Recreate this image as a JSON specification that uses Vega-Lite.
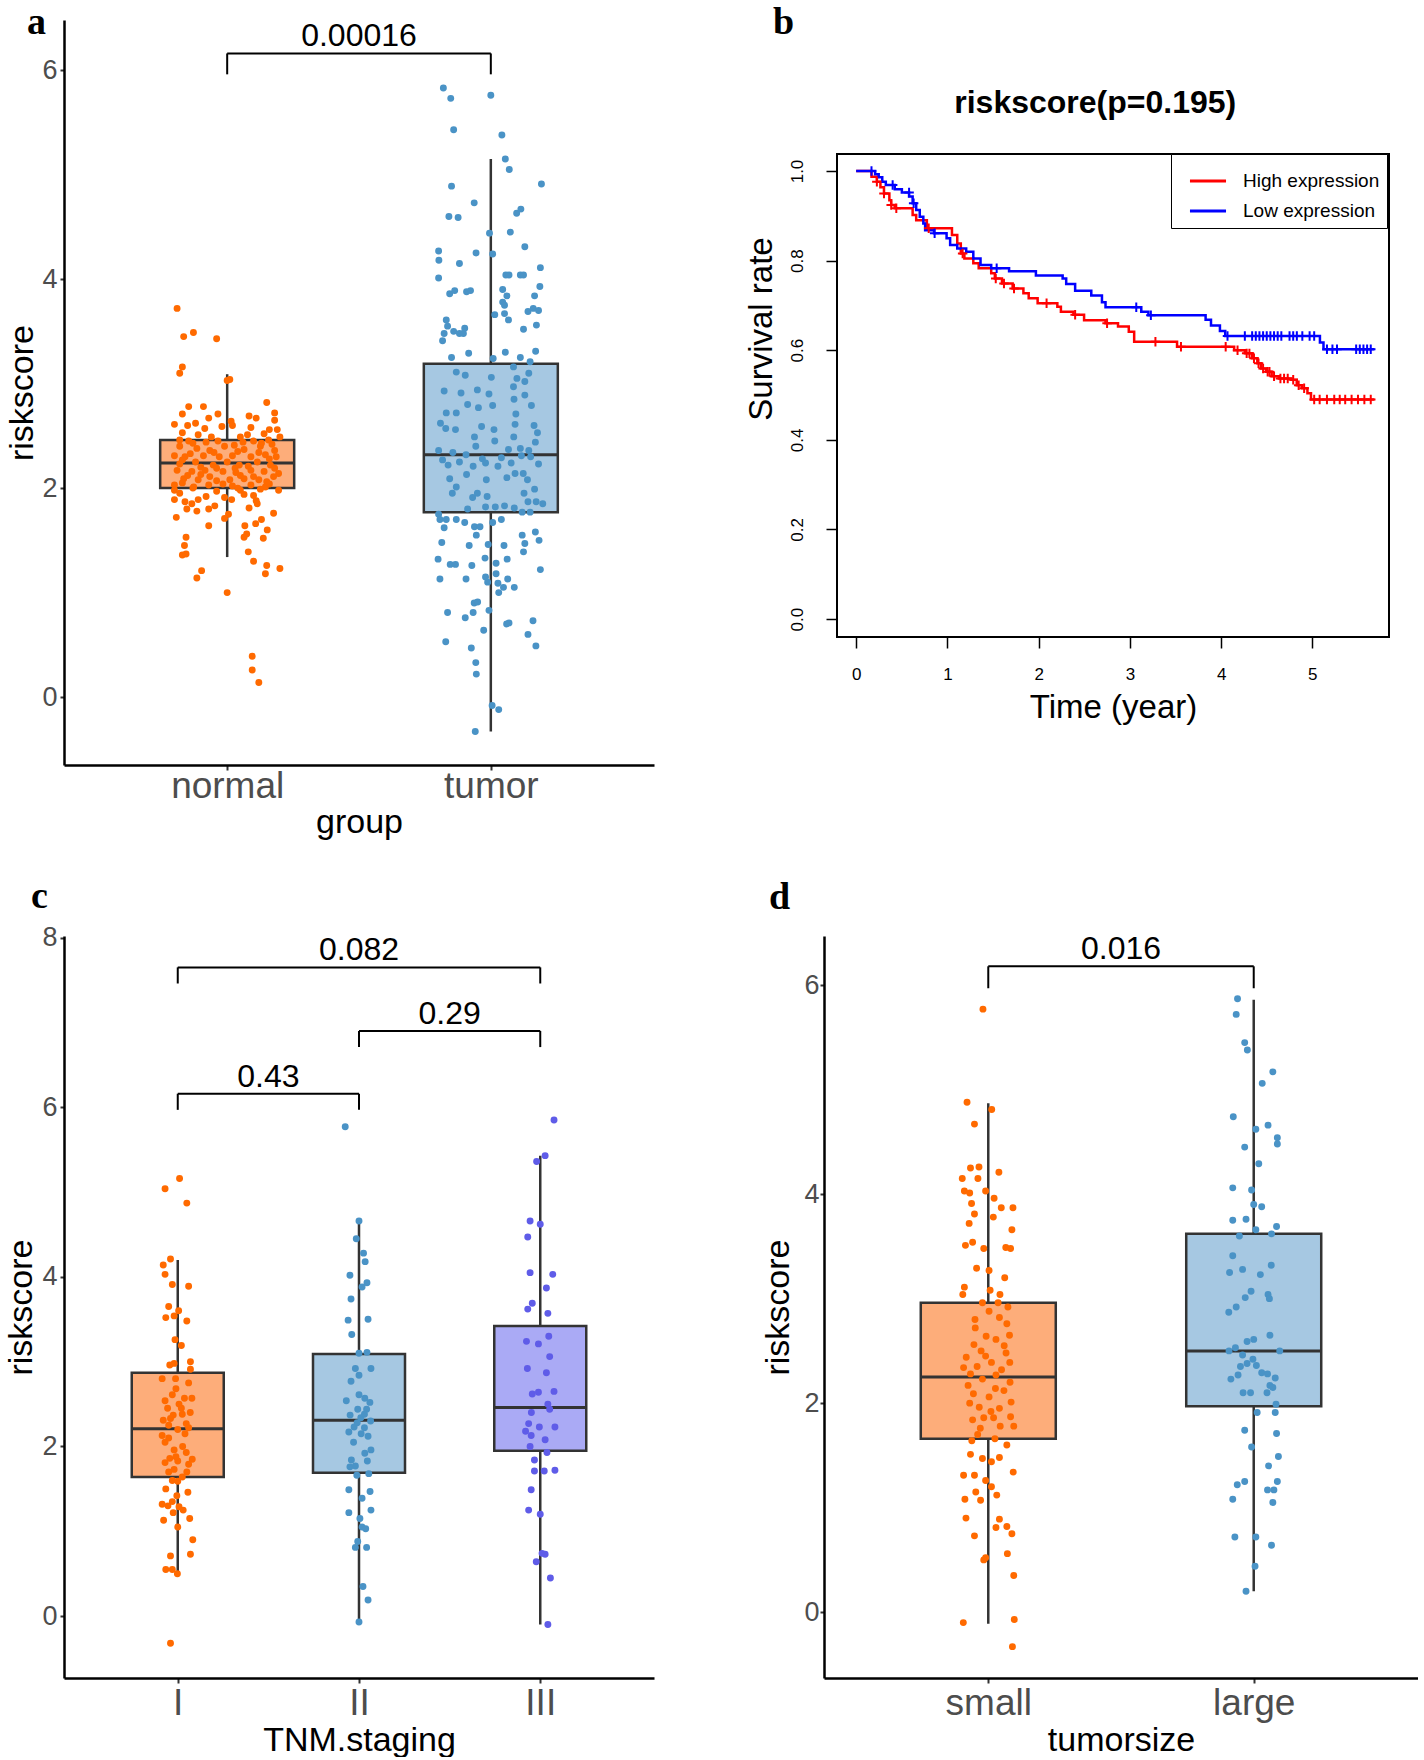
{
"$schema":"https://vega.github.io/schema/vega-lite/v6.json",
"background":"white",
"padding":{"left":4,"top":4,"right":0,"bottom":0},
"config":{
 "view":{"stroke":null},
 "font":"Liberation Sans",
 "axis":{"grid":false,"domainColor":"black","domainWidth":2.5,"tickColor":"#333333","tickWidth":2,"tickSize":5,"labelColor":"#4D4D4D","labelFont":"Liberation Sans","titleFont":"Liberation Sans","titleFontWeight":"normal","titleColor":"black","labelFlush":false,"labelOverlap":false},
 "title":{"font":"Liberation Serif","fontWeight":"bold","fontSize":38,"anchor":"start","frame":"bounds","color":"black","baseline":"alphabetic"}
},
"datasets":{
 "boxA":[{"g":"normal","pos":1,"lo":1.34,"q1":2.0,"med":2.24,"q3":2.46,"hi":3.09},{"g":"tumor","pos":2,"lo":-0.33,"q1":1.77,"med":2.32,"q3":3.19,"hi":5.15}],
 "brA":[{"x1":1,"x2":2,"xm":1.5,"y":6.16,"ylo":5.96,"label":"0.00016"}],
 "ptsA":[
{"g":"normal","x":0.81,"v":3.72},{"g":"normal","x":0.835,"v":3.45},{"g":"normal","x":0.872,"v":3.49},{"g":"normal","x":0.96,"v":3.43},{"g":"normal","x":0.83,"v":3.16},{"g":"normal","x":0.82,"v":3.10},{"g":"normal","x":1.0,"v":3.03},{"g":"normal","x":1.01,"v":3.04},{"g":"normal","x":1.15,"v":2.82},{"g":"normal","x":0.854,"v":2.78},{"g":"normal","x":0.91,"v":2.78},{"g":"normal","x":0.83,"v":2.71},{"g":"normal","x":0.965,"v":2.71},{"g":"normal","x":1.083,"v":2.69},{"g":"normal","x":1.11,"v":2.67},{"g":"normal","x":1.18,"v":2.72},{"g":"normal","x":1.18,"v":2.65},{"g":"normal","x":0.8,"v":2.61},{"g":"normal","x":1.015,"v":2.64},{"g":"normal","x":0.93,"v":2.67},{"g":"normal","x":0.85,"v":2.60},{"g":"normal","x":0.88,"v":2.62},{"g":"normal","x":0.915,"v":2.57},{"g":"normal","x":0.98,"v":2.59},{"g":"normal","x":1.09,"v":2.58},{"g":"normal","x":1.16,"v":2.56},{"g":"normal","x":1.19,"v":2.56},{"g":"normal","x":0.83,"v":2.53},{"g":"normal","x":0.89,"v":2.51},{"g":"normal","x":0.94,"v":2.49},{"g":"normal","x":1.02,"v":2.60},{"g":"normal","x":1.05,"v":2.49},{"g":"normal","x":1.077,"v":2.51},{"g":"normal","x":1.14,"v":2.52},{"g":"normal","x":1.2,"v":2.49},{"g":"normal","x":0.854,"v":2.45},{"g":"normal","x":0.965,"v":2.45},{"g":"normal","x":1.027,"v":2.41},{"g":"normal","x":1.1,"v":2.45},{"g":"normal","x":1.157,"v":2.46},{"g":"normal","x":0.82,"v":2.40},{"g":"normal","x":0.885,"v":2.38},{"g":"normal","x":0.934,"v":2.36},{"g":"normal","x":0.99,"v":2.40},{"g":"normal","x":1.064,"v":2.37},{"g":"normal","x":1.126,"v":2.40},{"g":"normal","x":1.18,"v":2.36},{"g":"normal","x":0.8,"v":2.31},{"g":"normal","x":0.84,"v":2.30},{"g":"normal","x":0.91,"v":2.31},{"g":"normal","x":0.97,"v":2.30},{"g":"normal","x":1.02,"v":2.31},{"g":"normal","x":1.09,"v":2.30},{"g":"normal","x":1.145,"v":2.32},{"g":"normal","x":1.186,"v":2.30},{"g":"normal","x":0.82,"v":2.23},{"g":"normal","x":0.88,"v":2.25},{"g":"normal","x":0.947,"v":2.22},{"g":"normal","x":1.0,"v":2.25},{"g":"normal","x":1.046,"v":2.22},{"g":"normal","x":1.114,"v":2.25},{"g":"normal","x":1.164,"v":2.22},{"g":"normal","x":0.81,"v":2.17},{"g":"normal","x":0.866,"v":2.16},{"g":"normal","x":0.916,"v":2.17},{"g":"normal","x":0.984,"v":2.16},{"g":"normal","x":1.033,"v":2.15},{"g":"normal","x":1.09,"v":2.17},{"g":"normal","x":1.14,"v":2.16},{"g":"normal","x":1.195,"v":2.14},{"g":"normal","x":0.835,"v":2.09},{"g":"normal","x":0.89,"v":2.08},{"g":"normal","x":0.934,"v":2.11},{"g":"normal","x":1.01,"v":2.08},{"g":"normal","x":1.064,"v":2.09},{"g":"normal","x":1.12,"v":2.08},{"g":"normal","x":1.176,"v":2.11},{"g":"normal","x":0.8,"v":2.03},{"g":"normal","x":0.873,"v":2.01},{"g":"normal","x":0.93,"v":2.03},{"g":"normal","x":0.984,"v":2.04},{"g":"normal","x":1.04,"v":2.00},{"g":"normal","x":1.09,"v":2.03},{"g":"normal","x":1.145,"v":2.01},{"g":"normal","x":1.195,"v":1.98},{"g":"normal","x":0.8,"v":1.98},{"g":"normal","x":0.82,"v":1.95},{"g":"normal","x":1.05,"v":1.98},{"g":"normal","x":1.126,"v":1.99},{"g":"normal","x":1.064,"v":1.94},{"g":"normal","x":0.8,"v":1.89},{"g":"normal","x":0.84,"v":1.87},{"g":"normal","x":0.89,"v":1.89},{"g":"normal","x":0.866,"v":1.85},{"g":"normal","x":0.99,"v":1.91},{"g":"normal","x":1.017,"v":1.89},{"g":"normal","x":1.11,"v":1.88},{"g":"normal","x":0.847,"v":1.80},{"g":"normal","x":0.885,"v":1.78},{"g":"normal","x":0.93,"v":1.80},{"g":"normal","x":0.953,"v":1.83},{"g":"normal","x":1.083,"v":1.81},{"g":"normal","x":1.114,"v":1.85},{"g":"normal","x":1.176,"v":1.76},{"g":"normal","x":0.807,"v":1.72},{"g":"normal","x":0.99,"v":1.71},{"g":"normal","x":1.005,"v":1.75},{"g":"normal","x":0.93,"v":1.64},{"g":"normal","x":1.067,"v":1.64},{"g":"normal","x":1.108,"v":1.66},{"g":"normal","x":1.13,"v":1.70},{"g":"normal","x":1.074,"v":1.56},{"g":"normal","x":1.064,"v":1.53},{"g":"normal","x":1.152,"v":1.60},{"g":"normal","x":1.137,"v":1.52},{"g":"normal","x":0.844,"v":1.53},{"g":"normal","x":0.838,"v":1.45},{"g":"normal","x":0.83,"v":1.36},{"g":"normal","x":0.844,"v":1.37},{"g":"normal","x":1.08,"v":1.39},{"g":"normal","x":1.1,"v":1.30},{"g":"normal","x":1.15,"v":1.26},{"g":"normal","x":1.145,"v":1.18},{"g":"normal","x":1.2,"v":1.23},{"g":"normal","x":0.903,"v":1.21},{"g":"normal","x":0.885,"v":1.14},{"g":"normal","x":1.0,"v":1.00},{"g":"normal","x":1.095,"v":0.39},{"g":"normal","x":1.095,"v":0.26},{"g":"normal","x":1.12,"v":0.14},
{"g":"normal","x":0.82,"v":2.46},{"g":"normal","x":0.87,"v":2.43},{"g":"normal","x":0.92,"v":2.44},{"g":"normal","x":1.06,"v":2.44},{"g":"normal","x":1.13,"v":2.43},{"g":"normal","x":1.17,"v":2.42},{"g":"normal","x":0.86,"v":2.33},{"g":"normal","x":0.95,"v":2.34},{"g":"normal","x":1.04,"v":2.35},{"g":"normal","x":1.12,"v":2.34},{"g":"normal","x":1.16,"v":2.28},{"g":"normal","x":0.83,"v":2.27},{"g":"normal","x":0.9,"v":2.20},{"g":"normal","x":0.96,"v":2.19},{"g":"normal","x":1.03,"v":2.19},{"g":"normal","x":1.08,"v":2.21},{"g":"normal","x":1.18,"v":2.19},{"g":"normal","x":0.85,"v":2.12},{"g":"normal","x":0.9,"v":2.13},{"g":"normal","x":0.96,"v":2.07},{"g":"normal","x":1.05,"v":2.12},{"g":"normal","x":1.1,"v":2.11},{"g":"normal","x":1.15,"v":2.06},{"g":"normal","x":0.83,"v":2.05},{"g":"normal","x":0.87,"v":2.0},{"g":"normal","x":1.02,"v":2.02},{"g":"normal","x":1.16,"v":2.04},{"g":"normal","x":0.96,"v":1.97},{"g":"normal","x":1.1,"v":1.93},{"g":"normal","x":0.92,"v":1.92},
{"g":"tumor","x":1.82,"v":5.83},{"g":"tumor","x":1.848,"v":5.73},{"g":"tumor","x":2.0,"v":5.76},{"g":"tumor","x":1.859,"v":5.43},{"g":"tumor","x":2.042,"v":5.38},{"g":"tumor","x":2.055,"v":5.15},{"g":"tumor","x":2.07,"v":5.05},{"g":"tumor","x":1.851,"v":4.89},{"g":"tumor","x":2.192,"v":4.91},{"g":"tumor","x":1.937,"v":4.73},{"g":"tumor","x":1.841,"v":4.60},{"g":"tumor","x":1.876,"v":4.59},{"g":"tumor","x":2.098,"v":4.63},{"g":"tumor","x":2.114,"v":4.67},{"g":"tumor","x":1.995,"v":4.44},{"g":"tumor","x":2.074,"v":4.45},{"g":"tumor","x":2.129,"v":4.31},{"g":"tumor","x":1.802,"v":4.27},{"g":"tumor","x":1.803,"v":4.18},{"g":"tumor","x":1.881,"v":4.15},{"g":"tumor","x":1.944,"v":4.25},{"g":"tumor","x":2.007,"v":4.24},{"g":"tumor","x":2.188,"v":4.11},{"g":"tumor","x":1.802,"v":4.01},{"g":"tumor","x":2.057,"v":4.04},{"g":"tumor","x":2.069,"v":4.04},{"g":"tumor","x":2.112,"v":4.04},{"g":"tumor","x":2.124,"v":4.04},{"g":"tumor","x":2.186,"v":3.93},{"g":"tumor","x":1.844,"v":3.86},{"g":"tumor","x":1.863,"v":3.89},{"g":"tumor","x":1.908,"v":3.88},{"g":"tumor","x":1.923,"v":3.89},{"g":"tumor","x":2.045,"v":3.90},{"g":"tumor","x":2.061,"v":3.84},{"g":"tumor","x":2.045,"v":3.78},{"g":"tumor","x":2.052,"v":3.75},{"g":"tumor","x":2.166,"v":3.84},{"g":"tumor","x":2.141,"v":3.69},{"g":"tumor","x":2.161,"v":3.72},{"g":"tumor","x":2.181,"v":3.70},{"g":"tumor","x":2.015,"v":3.66},{"g":"tumor","x":2.052,"v":3.67},{"g":"tumor","x":2.067,"v":3.61},{"g":"tumor","x":1.831,"v":3.61},{"g":"tumor","x":1.836,"v":3.55},{"g":"tumor","x":1.823,"v":3.48},{"g":"tumor","x":1.817,"v":3.41},{"g":"tumor","x":1.859,"v":3.50},{"g":"tumor","x":1.881,"v":3.48},{"g":"tumor","x":1.896,"v":3.48},{"g":"tumor","x":1.901,"v":3.53},{"g":"tumor","x":2.124,"v":3.52},{"g":"tumor","x":2.173,"v":3.56},{"g":"tumor","x":1.851,"v":3.25},{"g":"tumor","x":1.916,"v":3.29},{"g":"tumor","x":2.009,"v":3.24},{"g":"tumor","x":2.055,"v":3.30},{"g":"tumor","x":2.112,"v":3.25},{"g":"tumor","x":2.149,"v":3.21},{"g":"tumor","x":2.17,"v":3.31},{"g":"tumor","x":2.086,"v":3.16},{"g":"tumor","x":1.869,"v":3.11},{"g":"tumor","x":1.903,"v":3.08},{"g":"tumor","x":2.002,"v":3.06},{"g":"tumor","x":2.099,"v":3.05},{"g":"tumor","x":2.129,"v":3.02},{"g":"tumor","x":2.144,"v":3.10},{"g":"tumor","x":1.823,"v":2.93},{"g":"tumor","x":1.887,"v":2.91},{"g":"tumor","x":1.949,"v":2.94},{"g":"tumor","x":1.993,"v":2.90},{"g":"tumor","x":2.086,"v":2.97},{"g":"tumor","x":2.129,"v":2.89},{"g":"tumor","x":1.912,"v":2.80},{"g":"tumor","x":1.953,"v":2.77},{"g":"tumor","x":2.007,"v":2.79},{"g":"tumor","x":2.088,"v":2.85},{"g":"tumor","x":2.154,"v":2.79},{"g":"tumor","x":1.831,"v":2.72},{"g":"tumor","x":1.869,"v":2.72},{"g":"tumor","x":2.095,"v":2.71},{"g":"tumor","x":1.809,"v":2.62},{"g":"tumor","x":1.829,"v":2.57},{"g":"tumor","x":1.866,"v":2.56},{"g":"tumor","x":1.965,"v":2.59},{"g":"tumor","x":2.012,"v":2.56},{"g":"tumor","x":2.092,"v":2.61},{"g":"tumor","x":2.164,"v":2.60},{"g":"tumor","x":1.938,"v":2.49},{"g":"tumor","x":2.015,"v":2.45},{"g":"tumor","x":2.087,"v":2.49},{"g":"tumor","x":2.177,"v":2.53},{"g":"tumor","x":1.943,"v":2.40},{"g":"tumor","x":2.067,"v":2.37},{"g":"tumor","x":2.112,"v":2.38},{"g":"tumor","x":2.144,"v":2.36},{"g":"tumor","x":2.169,"v":2.44},{"g":"tumor","x":1.802,"v":2.36},{"g":"tumor","x":1.856,"v":2.34},{"g":"tumor","x":1.906,"v":2.32},{"g":"tumor","x":1.968,"v":2.28},{"g":"tumor","x":2.04,"v":2.29},{"g":"tumor","x":2.116,"v":2.31},{"g":"tumor","x":2.151,"v":2.30},{"g":"tumor","x":1.817,"v":2.27},{"g":"tumor","x":1.838,"v":2.22},{"g":"tumor","x":1.881,"v":2.25},{"g":"tumor","x":1.933,"v":2.21},{"g":"tumor","x":1.98,"v":2.24},{"g":"tumor","x":2.027,"v":2.21},{"g":"tumor","x":2.077,"v":2.24},{"g":"tumor","x":2.092,"v":2.14},{"g":"tumor","x":2.123,"v":2.14},{"g":"tumor","x":2.181,"v":2.23},{"g":"tumor","x":1.844,"v":2.09},{"g":"tumor","x":1.869,"v":2.01},{"g":"tumor","x":1.908,"v":2.13},{"g":"tumor","x":1.983,"v":2.08},{"g":"tumor","x":2.061,"v":2.10},{"g":"tumor","x":2.139,"v":2.08},{"g":"tumor","x":2.166,"v":1.99},{"g":"tumor","x":2.126,"v":1.95},{"g":"tumor","x":1.854,"v":1.95},{"g":"tumor","x":1.931,"v":1.91},{"g":"tumor","x":1.949,"v":1.95},{"g":"tumor","x":1.986,"v":1.92},{"g":"tumor","x":2.141,"v":1.87},{"g":"tumor","x":2.172,"v":1.87},{"g":"tumor","x":2.197,"v":1.85},{"g":"tumor","x":1.912,"v":1.80},{"g":"tumor","x":1.98,"v":1.82},{"g":"tumor","x":2.017,"v":1.82},{"g":"tumor","x":2.052,"v":1.83},{"g":"tumor","x":2.089,"v":1.81},{"g":"tumor","x":2.119,"v":1.77},{"g":"tumor","x":2.149,"v":1.77},{"g":"tumor","x":1.802,"v":1.75},{"g":"tumor","x":1.807,"v":1.70},{"g":"tumor","x":1.831,"v":1.70},{"g":"tumor","x":1.869,"v":1.70},{"g":"tumor","x":1.901,"v":1.67},{"g":"tumor","x":1.938,"v":1.63},{"g":"tumor","x":1.959,"v":1.63},{"g":"tumor","x":2.007,"v":1.67},{"g":"tumor","x":2.04,"v":1.70},{"g":"tumor","x":1.823,"v":1.62},{"g":"tumor","x":1.945,"v":1.55},{"g":"tumor","x":2.119,"v":1.55},{"g":"tumor","x":2.169,"v":1.58},{"g":"tumor","x":1.814,"v":1.48},{"g":"tumor","x":1.918,"v":1.45},{"g":"tumor","x":1.99,"v":1.46},{"g":"tumor","x":2.05,"v":1.45},{"g":"tumor","x":2.129,"v":1.47},{"g":"tumor","x":2.183,"v":1.50},{"g":"tumor","x":2.124,"v":1.39},{"g":"tumor","x":1.80,"v":1.32},{"g":"tumor","x":1.846,"v":1.27},{"g":"tumor","x":1.866,"v":1.27},{"g":"tumor","x":1.928,"v":1.26},{"g":"tumor","x":1.978,"v":1.33},{"g":"tumor","x":2.02,"v":1.28},{"g":"tumor","x":2.062,"v":1.32},{"g":"tumor","x":2.188,"v":1.22},{"g":"tumor","x":1.807,"v":1.13},{"g":"tumor","x":1.906,"v":1.13},{"g":"tumor","x":1.98,"v":1.15},{"g":"tumor","x":2.02,"v":1.18},{"g":"tumor","x":1.988,"v":1.10},{"g":"tumor","x":2.027,"v":1.09},{"g":"tumor","x":2.064,"v":1.13},{"g":"tumor","x":2.089,"v":1.05},{"g":"tumor","x":2.048,"v":1.05},{"g":"tumor","x":2.03,"v":1.00},{"g":"tumor","x":1.937,"v":0.90},{"g":"tumor","x":1.95,"v":0.91},{"g":"tumor","x":1.993,"v":0.83},{"g":"tumor","x":1.836,"v":0.81},{"g":"tumor","x":1.903,"v":0.76},{"g":"tumor","x":1.933,"v":0.81},{"g":"tumor","x":2.06,"v":0.70},{"g":"tumor","x":2.069,"v":0.71},{"g":"tumor","x":1.973,"v":0.64},{"g":"tumor","x":2.16,"v":0.73},{"g":"tumor","x":2.141,"v":0.60},{"g":"tumor","x":1.829,"v":0.53},{"g":"tumor","x":1.926,"v":0.47},{"g":"tumor","x":2.171,"v":0.49},{"g":"tumor","x":1.943,"v":0.33},{"g":"tumor","x":1.945,"v":0.22},{"g":"tumor","x":2.005,"v":-0.08},{"g":"tumor","x":2.03,"v":-0.12},{"g":"tumor","x":1.941,"v":-0.33}
 ],
 "frameB":[{"x0":-0.21,"x1":5.84,"y0":-0.04,"y1":1.038}],
 "titleB":[{"t":2.62,"S":1.13,"label":"riskscore(p=0.195)"}],
 "km":[
{"grp":"High expression","t":0,"S":1.0},{"grp":"High expression","t":0.168,"S":0.987},{"grp":"High expression","t":0.227,"S":0.976},{"grp":"High expression","t":0.266,"S":0.964},{"grp":"High expression","t":0.305,"S":0.950},{"grp":"High expression","t":0.364,"S":0.935},{"grp":"High expression","t":0.384,"S":0.924},{"grp":"High expression","t":0.423,"S":0.917},{"grp":"High expression","t":0.619,"S":0.902},{"grp":"High expression","t":0.658,"S":0.890},{"grp":"High expression","t":0.775,"S":0.872},{"grp":"High expression","t":1.05,"S":0.857},{"grp":"High expression","t":1.108,"S":0.838},{"grp":"High expression","t":1.147,"S":0.816},{"grp":"High expression","t":1.186,"S":0.805},{"grp":"High expression","t":1.284,"S":0.794},{"grp":"High expression","t":1.343,"S":0.783},{"grp":"High expression","t":1.48,"S":0.772},{"grp":"High expression","t":1.52,"S":0.760},{"grp":"High expression","t":1.598,"S":0.749},{"grp":"High expression","t":1.715,"S":0.738},{"grp":"High expression","t":1.833,"S":0.727},{"grp":"High expression","t":1.891,"S":0.716},{"grp":"High expression","t":1.989,"S":0.705},{"grp":"High expression","t":2.205,"S":0.697},{"grp":"High expression","t":2.244,"S":0.686},{"grp":"High expression","t":2.381,"S":0.679},{"grp":"High expression","t":2.498,"S":0.667},{"grp":"High expression","t":2.733,"S":0.660},{"grp":"High expression","t":2.87,"S":0.653},{"grp":"High expression","t":2.988,"S":0.641},{"grp":"High expression","t":3.047,"S":0.619},{"grp":"High expression","t":3.517,"S":0.608},{"grp":"High expression","t":4.143,"S":0.600},{"grp":"High expression","t":4.26,"S":0.593},{"grp":"High expression","t":4.339,"S":0.582},{"grp":"High expression","t":4.397,"S":0.571},{"grp":"High expression","t":4.437,"S":0.559},{"grp":"High expression","t":4.495,"S":0.552},{"grp":"High expression","t":4.554,"S":0.542},{"grp":"High expression","t":4.632,"S":0.537},{"grp":"High expression","t":4.77,"S":0.534},{"grp":"High expression","t":4.829,"S":0.522},{"grp":"High expression","t":4.887,"S":0.515},{"grp":"High expression","t":4.946,"S":0.504},{"grp":"High expression","t":4.985,"S":0.490},{"grp":"High expression","t":5.68,"S":0.490},
{"grp":"Low expression","t":0,"S":1.0},{"grp":"Low expression","t":0.208,"S":0.993},{"grp":"Low expression","t":0.247,"S":0.986},{"grp":"Low expression","t":0.286,"S":0.976},{"grp":"Low expression","t":0.325,"S":0.969},{"grp":"Low expression","t":0.423,"S":0.959},{"grp":"Low expression","t":0.501,"S":0.952},{"grp":"Low expression","t":0.58,"S":0.943},{"grp":"Low expression","t":0.619,"S":0.928},{"grp":"Low expression","t":0.658,"S":0.913},{"grp":"Low expression","t":0.697,"S":0.898},{"grp":"Low expression","t":0.736,"S":0.883},{"grp":"Low expression","t":0.756,"S":0.868},{"grp":"Low expression","t":0.854,"S":0.861},{"grp":"Low expression","t":0.991,"S":0.850},{"grp":"Low expression","t":1.03,"S":0.835},{"grp":"Low expression","t":1.108,"S":0.827},{"grp":"Low expression","t":1.206,"S":0.820},{"grp":"Low expression","t":1.284,"S":0.805},{"grp":"Low expression","t":1.363,"S":0.790},{"grp":"Low expression","t":1.48,"S":0.783},{"grp":"Low expression","t":1.676,"S":0.776},{"grp":"Low expression","t":1.97,"S":0.767},{"grp":"Low expression","t":2.263,"S":0.760},{"grp":"Low expression","t":2.302,"S":0.748},{"grp":"Low expression","t":2.4,"S":0.733},{"grp":"Low expression","t":2.577,"S":0.722},{"grp":"Low expression","t":2.694,"S":0.707},{"grp":"Low expression","t":2.733,"S":0.696},{"grp":"Low expression","t":3.125,"S":0.686},{"grp":"Low expression","t":3.203,"S":0.678},{"grp":"Low expression","t":3.83,"S":0.668},{"grp":"Low expression","t":3.889,"S":0.655},{"grp":"Low expression","t":3.987,"S":0.643},{"grp":"Low expression","t":4.045,"S":0.632},{"grp":"Low expression","t":5.083,"S":0.617},{"grp":"Low expression","t":5.122,"S":0.602},{"grp":"Low expression","t":5.68,"S":0.602}
 ],
 "cens":[
{"grp":"High expression","t":0.227,"S":0.976},{"grp":"High expression","t":0.305,"S":0.950},{"grp":"High expression","t":0.384,"S":0.924},{"grp":"High expression","t":0.44,"S":0.917},{"grp":"High expression","t":0.795,"S":0.872},{"grp":"High expression","t":1.167,"S":0.816},{"grp":"High expression","t":1.53,"S":0.760},{"grp":"High expression","t":1.62,"S":0.749},{"grp":"High expression","t":1.73,"S":0.738},{"grp":"High expression","t":2.087,"S":0.705},{"grp":"High expression","t":2.40,"S":0.679},{"grp":"High expression","t":2.75,"S":0.660},{"grp":"High expression","t":3.28,"S":0.619},{"grp":"High expression","t":3.56,"S":0.608},{"grp":"High expression","t":4.05,"S":0.608},{"grp":"High expression","t":4.18,"S":0.600},{"grp":"High expression","t":4.28,"S":0.593},{"grp":"High expression","t":4.31,"S":0.593},{"grp":"High expression","t":4.36,"S":0.582},{"grp":"High expression","t":4.41,"S":0.571},{"grp":"High expression","t":4.46,"S":0.559},{"grp":"High expression","t":4.51,"S":0.552},{"grp":"High expression","t":4.53,"S":0.552},{"grp":"High expression","t":4.58,"S":0.542},{"grp":"High expression","t":4.65,"S":0.537},{"grp":"High expression","t":4.69,"S":0.537},{"grp":"High expression","t":4.73,"S":0.537},{"grp":"High expression","t":4.79,"S":0.534},{"grp":"High expression","t":4.85,"S":0.522},{"grp":"High expression","t":4.91,"S":0.515},{"grp":"High expression","t":5.02,"S":0.490},{"grp":"High expression","t":5.08,"S":0.490},{"grp":"High expression","t":5.16,"S":0.490},{"grp":"High expression","t":5.24,"S":0.490},{"grp":"High expression","t":5.30,"S":0.490},{"grp":"High expression","t":5.36,"S":0.490},{"grp":"High expression","t":5.43,"S":0.490},{"grp":"High expression","t":5.50,"S":0.490},{"grp":"High expression","t":5.57,"S":0.490},{"grp":"High expression","t":5.64,"S":0.490},
{"grp":"Low expression","t":0.168,"S":1.0},{"grp":"Low expression","t":0.40,"S":0.969},{"grp":"Low expression","t":0.58,"S":0.952},{"grp":"Low expression","t":0.63,"S":0.928},{"grp":"Low expression","t":0.86,"S":0.861},{"grp":"Low expression","t":1.54,"S":0.783},{"grp":"Low expression","t":3.07,"S":0.696},{"grp":"Low expression","t":3.23,"S":0.678},{"grp":"Low expression","t":4.07,"S":0.632},{"grp":"Low expression","t":4.26,"S":0.632},{"grp":"Low expression","t":4.34,"S":0.632},{"grp":"Low expression","t":4.38,"S":0.632},{"grp":"Low expression","t":4.42,"S":0.632},{"grp":"Low expression","t":4.46,"S":0.632},{"grp":"Low expression","t":4.50,"S":0.632},{"grp":"Low expression","t":4.54,"S":0.632},{"grp":"Low expression","t":4.58,"S":0.632},{"grp":"Low expression","t":4.62,"S":0.632},{"grp":"Low expression","t":4.66,"S":0.632},{"grp":"Low expression","t":4.75,"S":0.632},{"grp":"Low expression","t":4.79,"S":0.632},{"grp":"Low expression","t":4.83,"S":0.632},{"grp":"Low expression","t":4.89,"S":0.632},{"grp":"Low expression","t":4.97,"S":0.632},{"grp":"Low expression","t":5.02,"S":0.632},{"grp":"Low expression","t":5.16,"S":0.602},{"grp":"Low expression","t":5.22,"S":0.602},{"grp":"Low expression","t":5.27,"S":0.602},{"grp":"Low expression","t":5.48,"S":0.602},{"grp":"Low expression","t":5.52,"S":0.602},{"grp":"Low expression","t":5.56,"S":0.602},{"grp":"Low expression","t":5.60,"S":0.602},{"grp":"Low expression","t":5.64,"S":0.602}
 ],
 "boxC":[{"g":"I","pos":1,"lo":0.49,"q1":1.64,"med":2.21,"q3":2.87,"hi":4.20},{"g":"II","pos":2,"lo":-0.07,"q1":1.69,"med":2.31,"q3":3.09,"hi":4.66},{"g":"III","pos":3,"lo":-0.10,"q1":1.95,"med":2.46,"q3":3.42,"hi":5.43}],
 "brC":[{"x1":1,"x2":3,"xm":2,"y":7.65,"ylo":7.46,"label":"0.082"},{"x1":2,"x2":3,"xm":2.5,"y":6.90,"ylo":6.71,"label":"0.29"},{"x1":1,"x2":2,"xm":1.5,"y":6.16,"ylo":5.97,"label":"0.43"}],
 "ptsC":[
{"g":"I","x":1.01,"v":5.16},{"g":"I","x":0.93,"v":5.04},{"g":"I","x":1.05,"v":4.87},{"g":"I","x":0.96,"v":4.21},{"g":"I","x":0.92,"v":4.14},{"g":"I","x":0.93,"v":4.03},{"g":"I","x":0.97,"v":3.91},{"g":"I","x":1.06,"v":3.89},{"g":"I","x":0.95,"v":3.65},{"g":"I","x":1.005,"v":3.60},{"g":"I","x":0.934,"v":3.52},{"g":"I","x":0.98,"v":3.54},{"g":"I","x":1.05,"v":3.48},{"g":"I","x":0.985,"v":3.26},{"g":"I","x":1.02,"v":3.19},{"g":"I","x":0.956,"v":2.96},{"g":"I","x":0.98,"v":2.98},{"g":"I","x":1.07,"v":3.00},{"g":"I","x":1.07,"v":2.91},{"g":"I","x":0.914,"v":2.80},{"g":"I","x":0.988,"v":2.80},{"g":"I","x":1.06,"v":2.75},{"g":"I","x":0.97,"v":2.61},{"g":"I","x":1.037,"v":2.57},{"g":"I","x":1.078,"v":2.57},{"g":"I","x":0.93,"v":2.54},{"g":"I","x":1.007,"v":2.50},{"g":"I","x":0.944,"v":2.45},{"g":"I","x":0.975,"v":2.37},{"g":"I","x":1.025,"v":2.38},{"g":"I","x":1.069,"v":2.40},{"g":"I","x":0.92,"v":2.31},{"g":"I","x":0.95,"v":2.25},{"g":"I","x":1.0,"v":2.20},{"g":"I","x":1.047,"v":2.27},{"g":"I","x":0.914,"v":2.13},{"g":"I","x":0.95,"v":2.10},{"g":"I","x":0.98,"v":1.96},{"g":"I","x":1.027,"v":2.00},{"g":"I","x":1.047,"v":1.93},{"g":"I","x":0.956,"v":1.86},{"g":"I","x":0.93,"v":1.81},{"g":"I","x":1.0,"v":1.83},{"g":"I","x":1.06,"v":1.79},{"g":"I","x":0.98,"v":1.73},{"g":"I","x":1.025,"v":1.64},{"g":"I","x":0.97,"v":1.60},{"g":"I","x":1.0,"v":1.59},{"g":"I","x":0.934,"v":1.50},{"g":"I","x":1.056,"v":1.46},{"g":"I","x":0.995,"v":1.42},{"g":"I","x":0.97,"v":1.35},{"g":"I","x":0.914,"v":1.32},{"g":"I","x":0.946,"v":1.30},{"g":"I","x":1.007,"v":1.29},{"g":"I","x":1.03,"v":1.25},{"g":"I","x":0.975,"v":1.22},{"g":"I","x":1.066,"v":1.15},{"g":"I","x":0.922,"v":1.13},{"g":"I","x":1.0,"v":1.05},{"g":"I","x":1.083,"v":0.90},{"g":"I","x":1.07,"v":0.73},{"g":"I","x":0.96,"v":0.71},{"g":"I","x":0.934,"v":0.55},{"g":"I","x":0.97,"v":0.55},{"g":"I","x":0.998,"v":0.50},{"g":"I","x":0.96,"v":-0.32},{"g":"I","x":0.96,"v":2.33},{"g":"I","x":1.04,"v":2.15},{"g":"I","x":0.93,"v":2.05},{"g":"I","x":1.06,"v":2.22},{"g":"I","x":0.99,"v":2.68},{"g":"I","x":1.05,"v":1.70},{"g":"I","x":0.95,"v":1.70},{"g":"I","x":1.02,"v":2.45},{"g":"I","x":0.99,"v":1.88},{"g":"I","x":1.08,"v":1.85},
{"g":"II","x":1.924,"v":5.77},{"g":"II","x":2.0,"v":4.66},{"g":"II","x":1.985,"v":4.45},{"g":"II","x":2.025,"v":4.28},{"g":"II","x":2.034,"v":4.18},{"g":"II","x":1.95,"v":4.02},{"g":"II","x":2.044,"v":3.93},{"g":"II","x":1.956,"v":3.74},{"g":"II","x":2.017,"v":3.88},{"g":"II","x":1.94,"v":3.49},{"g":"II","x":2.05,"v":3.50},{"g":"II","x":1.96,"v":3.32},{"g":"II","x":2.0,"v":3.10},{"g":"II","x":2.044,"v":3.11},{"g":"II","x":2.066,"v":2.92},{"g":"II","x":1.98,"v":2.92},{"g":"II","x":2.0,"v":2.84},{"g":"II","x":1.956,"v":2.77},{"g":"II","x":2.0,"v":2.61},{"g":"II","x":2.032,"v":2.57},{"g":"II","x":1.93,"v":2.54},{"g":"II","x":1.993,"v":2.44},{"g":"II","x":2.042,"v":2.44},{"g":"II","x":1.951,"v":2.37},{"g":"II","x":2.01,"v":2.34},{"g":"II","x":2.064,"v":2.30},{"g":"II","x":1.973,"v":2.23},{"g":"II","x":2.03,"v":2.22},{"g":"II","x":1.944,"v":2.17},{"g":"II","x":2.012,"v":2.15},{"g":"II","x":2.066,"v":1.96},{"g":"II","x":2.032,"v":1.92},{"g":"II","x":1.958,"v":1.84},{"g":"II","x":1.98,"v":1.77},{"g":"II","x":2.046,"v":1.83},{"g":"II","x":1.988,"v":1.66},{"g":"II","x":2.054,"v":1.68},{"g":"II","x":1.944,"v":1.49},{"g":"II","x":2.061,"v":1.47},{"g":"II","x":2.017,"v":1.39},{"g":"II","x":1.944,"v":1.22},{"g":"II","x":2.066,"v":1.25},{"g":"II","x":2.005,"v":1.15},{"g":"II","x":2.017,"v":1.05},{"g":"II","x":2.037,"v":1.03},{"g":"II","x":1.993,"v":0.88},{"g":"II","x":2.042,"v":0.81},{"g":"II","x":1.98,"v":0.81},{"g":"II","x":2.022,"v":0.35},{"g":"II","x":2.05,"v":0.19},{"g":"II","x":2.0,"v":-0.07},{"g":"II","x":2.03,"v":2.38},{"g":"II","x":1.97,"v":2.05},{"g":"II","x":2.05,"v":2.12},{"g":"II","x":1.99,"v":2.28},{"g":"II","x":2.06,"v":2.52},{"g":"II","x":1.95,"v":1.76},
{"g":"III","x":3.076,"v":5.85},{"g":"III","x":3.027,"v":5.43},{"g":"III","x":2.98,"v":5.36},{"g":"III","x":2.944,"v":4.66},{"g":"III","x":3.0,"v":4.62},{"g":"III","x":2.931,"v":4.47},{"g":"III","x":2.944,"v":4.05},{"g":"III","x":3.069,"v":4.03},{"g":"III","x":3.034,"v":3.87},{"g":"III","x":2.956,"v":3.69},{"g":"III","x":2.931,"v":3.62},{"g":"III","x":3.042,"v":3.57},{"g":"III","x":3.047,"v":3.30},{"g":"III","x":2.924,"v":3.24},{"g":"III","x":2.99,"v":3.21},{"g":"III","x":3.052,"v":3.06},{"g":"III","x":2.929,"v":2.92},{"g":"III","x":3.034,"v":2.87},{"g":"III","x":3.076,"v":2.65},{"g":"III","x":2.956,"v":2.62},{"g":"III","x":2.99,"v":2.64},{"g":"III","x":3.042,"v":2.50},{"g":"III","x":3.052,"v":2.44},{"g":"III","x":2.951,"v":2.40},{"g":"III","x":2.936,"v":2.27},{"g":"III","x":2.995,"v":2.23},{"g":"III","x":3.081,"v":2.23},{"g":"III","x":2.919,"v":2.18},{"g":"III","x":2.95,"v":2.13},{"g":"III","x":3.027,"v":2.08},{"g":"III","x":2.944,"v":2.00},{"g":"III","x":3.037,"v":1.93},{"g":"III","x":2.968,"v":1.84},{"g":"III","x":2.968,"v":1.71},{"g":"III","x":3.022,"v":1.71},{"g":"III","x":3.081,"v":1.72},{"g":"III","x":2.95,"v":1.49},{"g":"III","x":2.936,"v":1.25},{"g":"III","x":3.0,"v":1.20},{"g":"III","x":3.01,"v":0.74},{"g":"III","x":3.027,"v":0.73},{"g":"III","x":2.978,"v":0.64},{"g":"III","x":3.056,"v":0.45},{"g":"III","x":3.042,"v":-0.10}
 ],
 "boxD":[{"g":"small","pos":1,"lo":-0.11,"q1":1.66,"med":2.25,"q3":2.96,"hi":4.87},{"g":"large","pos":2,"lo":0.20,"q1":1.97,"med":2.50,"q3":3.62,"hi":5.86}],
 "brD":[{"x1":1,"x2":2,"xm":1.5,"y":6.18,"ylo":5.97,"label":"0.016"}],
 "ptsD":[
{"g":"small","x":0.98,"v":5.77},{"g":"small","x":0.92,"v":4.88},{"g":"small","x":1.013,"v":4.81},{"g":"small","x":0.948,"v":4.67},{"g":"small","x":0.965,"v":4.26},{"g":"small","x":0.933,"v":4.25},{"g":"small","x":0.902,"v":4.15},{"g":"small","x":0.961,"v":4.15},{"g":"small","x":1.04,"v":4.21},{"g":"small","x":0.91,"v":4.03},{"g":"small","x":0.93,"v":4.01},{"g":"small","x":0.99,"v":4.03},{"g":"small","x":0.937,"v":3.91},{"g":"small","x":1.022,"v":3.96},{"g":"small","x":1.049,"v":3.87},{"g":"small","x":1.093,"v":3.87},{"g":"small","x":0.948,"v":3.81},{"g":"small","x":1.019,"v":3.78},{"g":"small","x":0.928,"v":3.72},{"g":"small","x":1.089,"v":3.66},{"g":"small","x":0.914,"v":3.51},{"g":"small","x":0.941,"v":3.54},{"g":"small","x":0.983,"v":3.48},{"g":"small","x":1.066,"v":3.49},{"g":"small","x":1.084,"v":3.48},{"g":"small","x":0.956,"v":3.29},{"g":"small","x":1.003,"v":3.27},{"g":"small","x":1.062,"v":3.20},{"g":"small","x":0.91,"v":3.11},{"g":"small","x":0.904,"v":3.04},{"g":"small","x":1.007,"v":3.08},{"g":"small","x":1.044,"v":3.04},{"g":"small","x":0.978,"v":2.96},{"g":"small","x":1.037,"v":2.96},{"g":"small","x":1.074,"v":2.92},{"g":"small","x":1.003,"v":2.88},{"g":"small","x":1.042,"v":2.82},{"g":"small","x":1.07,"v":2.76},{"g":"small","x":0.951,"v":2.72},{"g":"small","x":0.992,"v":2.64},{"g":"small","x":1.029,"v":2.61},{"g":"small","x":0.946,"v":2.56},{"g":"small","x":0.973,"v":2.50},{"g":"small","x":1.067,"v":2.48},{"g":"small","x":0.917,"v":2.44},{"g":"small","x":1.012,"v":2.39},{"g":"small","x":0.958,"v":2.35},{"g":"small","x":0.907,"v":2.34},{"g":"small","x":1.081,"v":2.39},{"g":"small","x":0.933,"v":2.28},{"g":"small","x":1.029,"v":2.27},{"g":"small","x":0.978,"v":2.23},{"g":"small","x":1.082,"v":2.20},{"g":"small","x":0.924,"v":2.17},{"g":"small","x":1.027,"v":2.14},{"g":"small","x":1.059,"v":2.12},{"g":"small","x":0.944,"v":2.09},{"g":"small","x":1.003,"v":2.06},{"g":"small","x":1.086,"v":2.01},{"g":"small","x":0.966,"v":1.96},{"g":"small","x":1.042,"v":1.95},{"g":"small","x":0.941,"v":1.84},{"g":"small","x":0.983,"v":1.86},{"g":"small","x":1.02,"v":1.86},{"g":"small","x":1.084,"v":1.87},{"g":"small","x":0.97,"v":1.76},{"g":"small","x":1.045,"v":1.78},{"g":"small","x":1.096,"v":1.78},{"g":"small","x":1.025,"v":1.66},{"g":"small","x":1.07,"v":1.60},{"g":"small","x":0.938,"v":1.64},{"g":"small","x":0.933,"v":1.51},{"g":"small","x":0.978,"v":1.47},{"g":"small","x":1.042,"v":1.48},{"g":"small","x":1.012,"v":1.44},{"g":"small","x":1.094,"v":1.34},{"g":"small","x":0.907,"v":1.31},{"g":"small","x":0.948,"v":1.31},{"g":"small","x":0.99,"v":1.26},{"g":"small","x":1.012,"v":1.20},{"g":"small","x":0.953,"v":1.15},{"g":"small","x":1.032,"v":1.12},{"g":"small","x":0.912,"v":1.08},{"g":"small","x":0.971,"v":1.07},{"g":"small","x":1.042,"v":0.89},{"g":"small","x":0.916,"v":0.90},{"g":"small","x":1.029,"v":0.81},{"g":"small","x":1.07,"v":0.82},{"g":"small","x":1.089,"v":0.75},{"g":"small","x":0.948,"v":0.73},{"g":"small","x":0.99,"v":0.52},{"g":"small","x":0.983,"v":0.50},{"g":"small","x":1.072,"v":0.56},{"g":"small","x":1.096,"v":0.35},{"g":"small","x":0.906,"v":-0.10},{"g":"small","x":1.098,"v":-0.07},{"g":"small","x":1.091,"v":-0.33},{"g":"small","x":0.95,"v":2.80},{"g":"small","x":1.06,"v":2.55},{"g":"small","x":0.99,"v":2.45},{"g":"small","x":1.05,"v":2.32},{"g":"small","x":0.93,"v":2.00},{"g":"small","x":1.01,"v":1.92},{"g":"small","x":1.08,"v":2.65},{"g":"small","x":0.96,"v":1.70},
{"g":"large","x":1.939,"v":5.87},{"g":"large","x":1.934,"v":5.72},{"g":"large","x":1.966,"v":5.45},{"g":"large","x":1.976,"v":5.38},{"g":"large","x":2.072,"v":5.17},{"g":"large","x":2.032,"v":5.06},{"g":"large","x":1.923,"v":4.74},{"g":"large","x":2.054,"v":4.66},{"g":"large","x":2.008,"v":4.62},{"g":"large","x":2.089,"v":4.54},{"g":"large","x":2.089,"v":4.48},{"g":"large","x":1.966,"v":4.45},{"g":"large","x":2.019,"v":4.29},{"g":"large","x":1.921,"v":4.06},{"g":"large","x":1.992,"v":4.04},{"g":"large","x":2.0,"v":3.90},{"g":"large","x":2.03,"v":3.88},{"g":"large","x":1.921,"v":3.75},{"g":"large","x":1.971,"v":3.76},{"g":"large","x":1.946,"v":3.60},{"g":"large","x":2.008,"v":3.66},{"g":"large","x":2.067,"v":3.62},{"g":"large","x":2.086,"v":3.69},{"g":"large","x":1.921,"v":3.41},{"g":"large","x":1.909,"v":3.25},{"g":"large","x":1.958,"v":3.28},{"g":"large","x":2.025,"v":3.23},{"g":"large","x":2.066,"v":3.32},{"g":"large","x":1.99,"v":3.07},{"g":"large","x":1.968,"v":3.01},{"g":"large","x":2.054,"v":3.04},{"g":"large","x":2.059,"v":3.00},{"g":"large","x":1.934,"v":2.92},{"g":"large","x":1.906,"v":2.87},{"g":"large","x":2.061,"v":2.65},{"g":"large","x":2.0,"v":2.61},{"g":"large","x":1.975,"v":2.59},{"g":"large","x":1.931,"v":2.53},{"g":"large","x":1.907,"v":2.50},{"g":"large","x":1.958,"v":2.46},{"g":"large","x":2.098,"v":2.50},{"g":"large","x":1.997,"v":2.42},{"g":"large","x":1.975,"v":2.38},{"g":"large","x":1.95,"v":2.35},{"g":"large","x":2.01,"v":2.36},{"g":"large","x":2.03,"v":2.29},{"g":"large","x":2.052,"v":2.28},{"g":"large","x":2.081,"v":2.24},{"g":"large","x":1.914,"v":2.23},{"g":"large","x":1.941,"v":2.27},{"g":"large","x":2.061,"v":2.17},{"g":"large","x":2.072,"v":2.15},{"g":"large","x":1.96,"v":2.10},{"g":"large","x":1.988,"v":2.10},{"g":"large","x":2.05,"v":2.10},{"g":"large","x":2.084,"v":1.99},{"g":"large","x":2.013,"v":1.91},{"g":"large","x":2.081,"v":1.91},{"g":"large","x":1.966,"v":1.74},{"g":"large","x":2.086,"v":1.71},{"g":"large","x":1.992,"v":1.58},{"g":"large","x":2.093,"v":1.49},{"g":"large","x":2.056,"v":1.40},{"g":"large","x":1.938,"v":1.22},{"g":"large","x":1.966,"v":1.25},{"g":"large","x":2.089,"v":1.25},{"g":"large","x":2.052,"v":1.17},{"g":"large","x":2.076,"v":1.17},{"g":"large","x":1.921,"v":1.08},{"g":"large","x":2.072,"v":1.05},{"g":"large","x":1.929,"v":0.72},{"g":"large","x":2.008,"v":0.72},{"g":"large","x":2.067,"v":0.64},{"g":"large","x":2.005,"v":0.44},{"g":"large","x":1.971,"v":0.20}
 ]
},
"spacing":38,
"resolve":{"scale":{"color":"independent","fill":"independent"}},
"vconcat":[
 {"spacing":90,"resolve":{"scale":{"color":"independent","fill":"independent"}},"hconcat":[
  {"title":{"text":"a","dx":21,"offset":-22},
   "width":590,"height":745,
   "layer":[
    {"data":{"name":"boxA"},"mark":{"type":"rule","color":"#333333","strokeWidth":2.5},
     "encoding":{"x":{"field":"pos","type":"quantitative","scale":{"domain":[0.4,2.6],"nice":false,"zero":false},"axis":{"values":[1,2],"labelExpr":"datum.value == 1 ? 'normal' : 'tumor'","title":"group","labelFontSize":37,"titleFontSize":34,"labelPadding":-2,"titlePadding":1}},
      "y":{"field":"lo","type":"quantitative","scale":{"domain":[-0.65,6.48],"nice":false,"zero":false},"axis":{"values":[0,2,4,6],"format":"d","title":"riskscore","labelFontSize":27,"titleFontSize":34,"tickSize":4,"labelPadding":3,"titlePadding":2}},
      "y2":{"field":"hi"}}},
    {"data":{"name":"boxA"},"mark":{"type":"bar","size":134,"stroke":"#333333","strokeWidth":2.5},
     "encoding":{"x":{"field":"pos","type":"quantitative","scale":{"domain":[0.4,2.6],"nice":false,"zero":false}},
      "y":{"field":"q1","type":"quantitative","scale":{"domain":[-0.65,6.48],"nice":false,"zero":false}},"y2":{"field":"q3"},
      "fill":{"field":"g","type":"nominal","scale":{"domain":["normal","tumor"],"range":["#FDAD7A","#A6C8E2"]},"legend":null}}},
    {"data":{"name":"boxA"},"mark":{"type":"tick","orient":"horizontal","size":134,"thickness":3,"color":"#333333","opacity":1},
     "encoding":{"x":{"field":"pos","type":"quantitative","scale":{"domain":[0.4,2.6],"nice":false,"zero":false}},
      "y":{"field":"med","type":"quantitative","scale":{"domain":[-0.65,6.48],"nice":false,"zero":false}}}},
    {"data":{"name":"ptsA"},"mark":{"type":"circle","size":48,"opacity":1},
     "encoding":{"x":{"field":"x","type":"quantitative","scale":{"domain":[0.4,2.6],"nice":false,"zero":false}},
      "y":{"field":"v","type":"quantitative","scale":{"domain":[-0.65,6.48],"nice":false,"zero":false}},
      "color":{"field":"g","type":"nominal","scale":{"domain":["normal","tumor"],"range":["#FF6A00","#4A93C6"]},"legend":null}}},
    {"data":{"name":"brA"},"mark":{"type":"rule","color":"black","strokeWidth":2},
     "encoding":{"x":{"field":"x1","type":"quantitative","scale":{"domain":[0.4,2.6],"nice":false,"zero":false}},"x2":{"field":"x2"},
      "y":{"field":"y","type":"quantitative","scale":{"domain":[-0.65,6.48],"nice":false,"zero":false}}}},
    {"data":{"name":"brA"},"mark":{"type":"rule","color":"black","strokeWidth":2},
     "encoding":{"x":{"field":"x1","type":"quantitative","scale":{"domain":[0.4,2.6],"nice":false,"zero":false}},
      "y":{"field":"ylo","type":"quantitative","scale":{"domain":[-0.65,6.48],"nice":false,"zero":false}},"y2":{"field":"y"}}},
    {"data":{"name":"brA"},"mark":{"type":"rule","color":"black","strokeWidth":2},
     "encoding":{"x":{"field":"x2","type":"quantitative","scale":{"domain":[0.4,2.6],"nice":false,"zero":false}},
      "y":{"field":"ylo","type":"quantitative","scale":{"domain":[-0.65,6.48],"nice":false,"zero":false}},"y2":{"field":"y"}}},
    {"data":{"name":"brA"},"mark":{"type":"text","fontSize":32,"dy":-7,"baseline":"alphabetic","font":"Liberation Sans","color":"black"},
     "encoding":{"x":{"field":"xm","type":"quantitative","scale":{"domain":[0.4,2.6],"nice":false,"zero":false}},
      "y":{"field":"y","type":"quantitative","scale":{"domain":[-0.65,6.48],"nice":false,"zero":false}},"text":{"field":"label"}}}
   ]},
  {"title":{"text":"b","dx":28,"offset":-22},
   "width":552,"height":617,
   "layer":[
    {"data":{"name":"frameB"},"mark":{"type":"rect","fillOpacity":0,"stroke":"black","strokeWidth":2},
     "encoding":{"x":{"field":"x0","type":"quantitative","scale":{"domain":[-0.21,5.84],"nice":false,"zero":false},"axis":{"values":[0,1,2,3,4,5],"format":"d","title":"Time (year)","domain":false,"tickSize":11,"tickColor":"black","tickWidth":1.5,"labelColor":"black","labelFontSize":17,"labelPadding":18,"titleFontSize":33,"titlePadding":9}},
      "x2":{"field":"x1"},
      "y":{"field":"y0","type":"quantitative","scale":{"domain":[-0.04,1.337],"nice":false,"zero":false},"axis":{"values":[0,0.2,0.4,0.6,0.8,1],"format":".1f","title":"Survival rate","domain":false,"tickSize":11,"tickColor":"black","tickWidth":1.5,"labelAngle":270,"labelColor":"black","labelFontSize":17,"labelPadding":20,"titleFontSize":33,"titlePadding":10}},
      "y2":{"field":"y1"}}},
    {"data":{"name":"km"},"mark":{"type":"line","interpolate":"step-after","strokeWidth":2.5},
     "encoding":{"x":{"field":"t","type":"quantitative","scale":{"domain":[-0.21,5.84],"nice":false,"zero":false}},
      "y":{"field":"S","type":"quantitative","scale":{"domain":[-0.04,1.337],"nice":false,"zero":false}},
      "color":{"field":"grp","type":"nominal","scale":{"domain":["High expression","Low expression"],"range":["#FF0000","#0000FF"]},
       "legend":{"title":null,"orient":"none","legendX":334,"legendY":134,"strokeColor":"black","fillColor":"white","padding":7,"labelFontSize":19,"labelFont":"Liberation Sans","labelColor":"black","symbolType":"stroke","symbolStrokeWidth":3,"symbolSize":1300,"symbolOffset":10,"labelOffset":15,"rowPadding":-19}}}},
    {"data":{"name":"cens"},"mark":{"type":"point","shape":"M-1,0H1M0,-1V1","filled":false,"size":90,"strokeWidth":2,"opacity":1},
     "encoding":{"x":{"field":"t","type":"quantitative","scale":{"domain":[-0.21,5.84],"nice":false,"zero":false}},
      "y":{"field":"S","type":"quantitative","scale":{"domain":[-0.04,1.337],"nice":false,"zero":false}},
      "color":{"field":"grp","type":"nominal","scale":{"domain":["High expression","Low expression"],"range":["#FF0000","#0000FF"]}}}},
    {"data":{"name":"titleB"},"mark":{"type":"text","fontSize":32,"fontWeight":"bold","baseline":"alphabetic","font":"Liberation Sans","color":"black"},
     "encoding":{"x":{"field":"t","type":"quantitative","scale":{"domain":[-0.21,5.84],"nice":false,"zero":false}},
      "y":{"field":"S","type":"quantitative","scale":{"domain":[-0.04,1.337],"nice":false,"zero":false}},"text":{"field":"label"}}}
   ]}
 ]},
 {"spacing":107,"resolve":{"scale":{"color":"independent","fill":"independent"}},"hconcat":[
  {"title":{"text":"c","dx":26,"offset":8},
   "width":590,"height":742,
   "layer":[
    {"data":{"name":"boxC"},"mark":{"type":"rule","color":"#333333","strokeWidth":2.5},
     "encoding":{"x":{"field":"pos","type":"quantitative","scale":{"domain":[0.4,3.6],"nice":false,"zero":false},"axis":{"values":[1,2,3],"labelExpr":"datum.value == 1 ? 'I' : (datum.value == 2 ? 'II' : 'III')","title":"TNM.staging","labelFontSize":37,"titleFontSize":34,"labelPadding":2,"titlePadding":2}},
      "y":{"field":"lo","type":"quantitative","scale":{"domain":[-0.73,8.02],"nice":false,"zero":false},"axis":{"values":[0,2,4,6,8],"format":"d","title":"riskscore","labelFontSize":27,"titleFontSize":34,"tickSize":4,"labelPadding":3,"titlePadding":3}},
      "y2":{"field":"hi"}}},
    {"data":{"name":"boxC"},"mark":{"type":"bar","size":92,"stroke":"#333333","strokeWidth":2.5},
     "encoding":{"x":{"field":"pos","type":"quantitative","scale":{"domain":[0.4,3.6],"nice":false,"zero":false}},
      "y":{"field":"q1","type":"quantitative","scale":{"domain":[-0.73,8.02],"nice":false,"zero":false}},"y2":{"field":"q3"},
      "fill":{"field":"g","type":"nominal","scale":{"domain":["I","II","III"],"range":["#FDAD7A","#A6C8E2","#AAAAF5"]},"legend":null}}},
    {"data":{"name":"boxC"},"mark":{"type":"tick","orient":"horizontal","size":92,"thickness":3,"color":"#333333","opacity":1},
     "encoding":{"x":{"field":"pos","type":"quantitative","scale":{"domain":[0.4,3.6],"nice":false,"zero":false}},
      "y":{"field":"med","type":"quantitative","scale":{"domain":[-0.73,8.02],"nice":false,"zero":false}}}},
    {"data":{"name":"ptsC"},"mark":{"type":"circle","size":48,"opacity":1},
     "encoding":{"x":{"field":"x","type":"quantitative","scale":{"domain":[0.4,3.6],"nice":false,"zero":false}},
      "y":{"field":"v","type":"quantitative","scale":{"domain":[-0.73,8.02],"nice":false,"zero":false}},
      "color":{"field":"g","type":"nominal","scale":{"domain":["I","II","III"],"range":["#FF6A00","#4A93C6","#5F5CE8"]},"legend":null}}},
    {"data":{"name":"brC"},"mark":{"type":"rule","color":"black","strokeWidth":2},
     "encoding":{"x":{"field":"x1","type":"quantitative","scale":{"domain":[0.4,3.6],"nice":false,"zero":false}},"x2":{"field":"x2"},
      "y":{"field":"y","type":"quantitative","scale":{"domain":[-0.73,8.02],"nice":false,"zero":false}}}},
    {"data":{"name":"brC"},"mark":{"type":"rule","color":"black","strokeWidth":2},
     "encoding":{"x":{"field":"x1","type":"quantitative","scale":{"domain":[0.4,3.6],"nice":false,"zero":false}},
      "y":{"field":"ylo","type":"quantitative","scale":{"domain":[-0.73,8.02],"nice":false,"zero":false}},"y2":{"field":"y"}}},
    {"data":{"name":"brC"},"mark":{"type":"rule","color":"black","strokeWidth":2},
     "encoding":{"x":{"field":"x2","type":"quantitative","scale":{"domain":[0.4,3.6],"nice":false,"zero":false}},
      "y":{"field":"ylo","type":"quantitative","scale":{"domain":[-0.73,8.02],"nice":false,"zero":false}},"y2":{"field":"y"}}},
    {"data":{"name":"brC"},"mark":{"type":"text","fontSize":32,"dy":-7,"baseline":"alphabetic","font":"Liberation Sans","color":"black"},
     "encoding":{"x":{"field":"xm","type":"quantitative","scale":{"domain":[0.4,3.6],"nice":false,"zero":false}},
      "y":{"field":"y","type":"quantitative","scale":{"domain":[-0.73,8.02],"nice":false,"zero":false}},"text":{"field":"label"}}}
   ]},
  {"title":{"text":"d","dx":7,"offset":16},
   "width":594,"height":742,
   "layer":[
    {"data":{"name":"boxD"},"mark":{"type":"rule","color":"#333333","strokeWidth":2.5},
     "encoding":{"x":{"field":"pos","type":"quantitative","scale":{"domain":[0.4,2.6],"nice":false,"zero":false},"axis":{"values":[1,2],"labelExpr":"datum.value == 1 ? 'small' : 'large'","title":"tumorsize","labelFontSize":37,"titleFontSize":34,"labelPadding":2,"titlePadding":2}},
      "y":{"field":"lo","type":"quantitative","scale":{"domain":[-0.63,6.47],"nice":false,"zero":false},"axis":{"values":[0,2,4,6],"format":"d","title":"riskscore","labelFontSize":27,"titleFontSize":34,"tickSize":4,"labelPadding":1,"titlePadding":8}},
      "y2":{"field":"hi"}}},
    {"data":{"name":"boxD"},"mark":{"type":"bar","size":135,"stroke":"#333333","strokeWidth":2.5},
     "encoding":{"x":{"field":"pos","type":"quantitative","scale":{"domain":[0.4,2.6],"nice":false,"zero":false}},
      "y":{"field":"q1","type":"quantitative","scale":{"domain":[-0.63,6.47],"nice":false,"zero":false}},"y2":{"field":"q3"},
      "fill":{"field":"g","type":"nominal","scale":{"domain":["small","large"],"range":["#FDAD7A","#A6C8E2"]},"legend":null}}},
    {"data":{"name":"boxD"},"mark":{"type":"tick","orient":"horizontal","size":135,"thickness":3,"color":"#333333","opacity":1},
     "encoding":{"x":{"field":"pos","type":"quantitative","scale":{"domain":[0.4,2.6],"nice":false,"zero":false}},
      "y":{"field":"med","type":"quantitative","scale":{"domain":[-0.63,6.47],"nice":false,"zero":false}}}},
    {"data":{"name":"ptsD"},"mark":{"type":"circle","size":48,"opacity":1},
     "encoding":{"x":{"field":"x","type":"quantitative","scale":{"domain":[0.4,2.6],"nice":false,"zero":false}},
      "y":{"field":"v","type":"quantitative","scale":{"domain":[-0.63,6.47],"nice":false,"zero":false}},
      "color":{"field":"g","type":"nominal","scale":{"domain":["small","large"],"range":["#FF6A00","#4A93C6"]},"legend":null}}},
    {"data":{"name":"brD"},"mark":{"type":"rule","color":"black","strokeWidth":2},
     "encoding":{"x":{"field":"x1","type":"quantitative","scale":{"domain":[0.4,2.6],"nice":false,"zero":false}},"x2":{"field":"x2"},
      "y":{"field":"y","type":"quantitative","scale":{"domain":[-0.63,6.47],"nice":false,"zero":false}}}},
    {"data":{"name":"brD"},"mark":{"type":"rule","color":"black","strokeWidth":2},
     "encoding":{"x":{"field":"x1","type":"quantitative","scale":{"domain":[0.4,2.6],"nice":false,"zero":false}},
      "y":{"field":"ylo","type":"quantitative","scale":{"domain":[-0.63,6.47],"nice":false,"zero":false}},"y2":{"field":"y"}}},
    {"data":{"name":"brD"},"mark":{"type":"rule","color":"black","strokeWidth":2},
     "encoding":{"x":{"field":"x2","type":"quantitative","scale":{"domain":[0.4,2.6],"nice":false,"zero":false}},
      "y":{"field":"ylo","type":"quantitative","scale":{"domain":[-0.63,6.47],"nice":false,"zero":false}},"y2":{"field":"y"}}},
    {"data":{"name":"brD"},"mark":{"type":"text","fontSize":32,"dy":-7,"baseline":"alphabetic","font":"Liberation Sans","color":"black"},
     "encoding":{"x":{"field":"xm","type":"quantitative","scale":{"domain":[0.4,2.6],"nice":false,"zero":false}},
      "y":{"field":"y","type":"quantitative","scale":{"domain":[-0.63,6.47],"nice":false,"zero":false}},"text":{"field":"label"}}}
   ]}
 ]}
]
}
